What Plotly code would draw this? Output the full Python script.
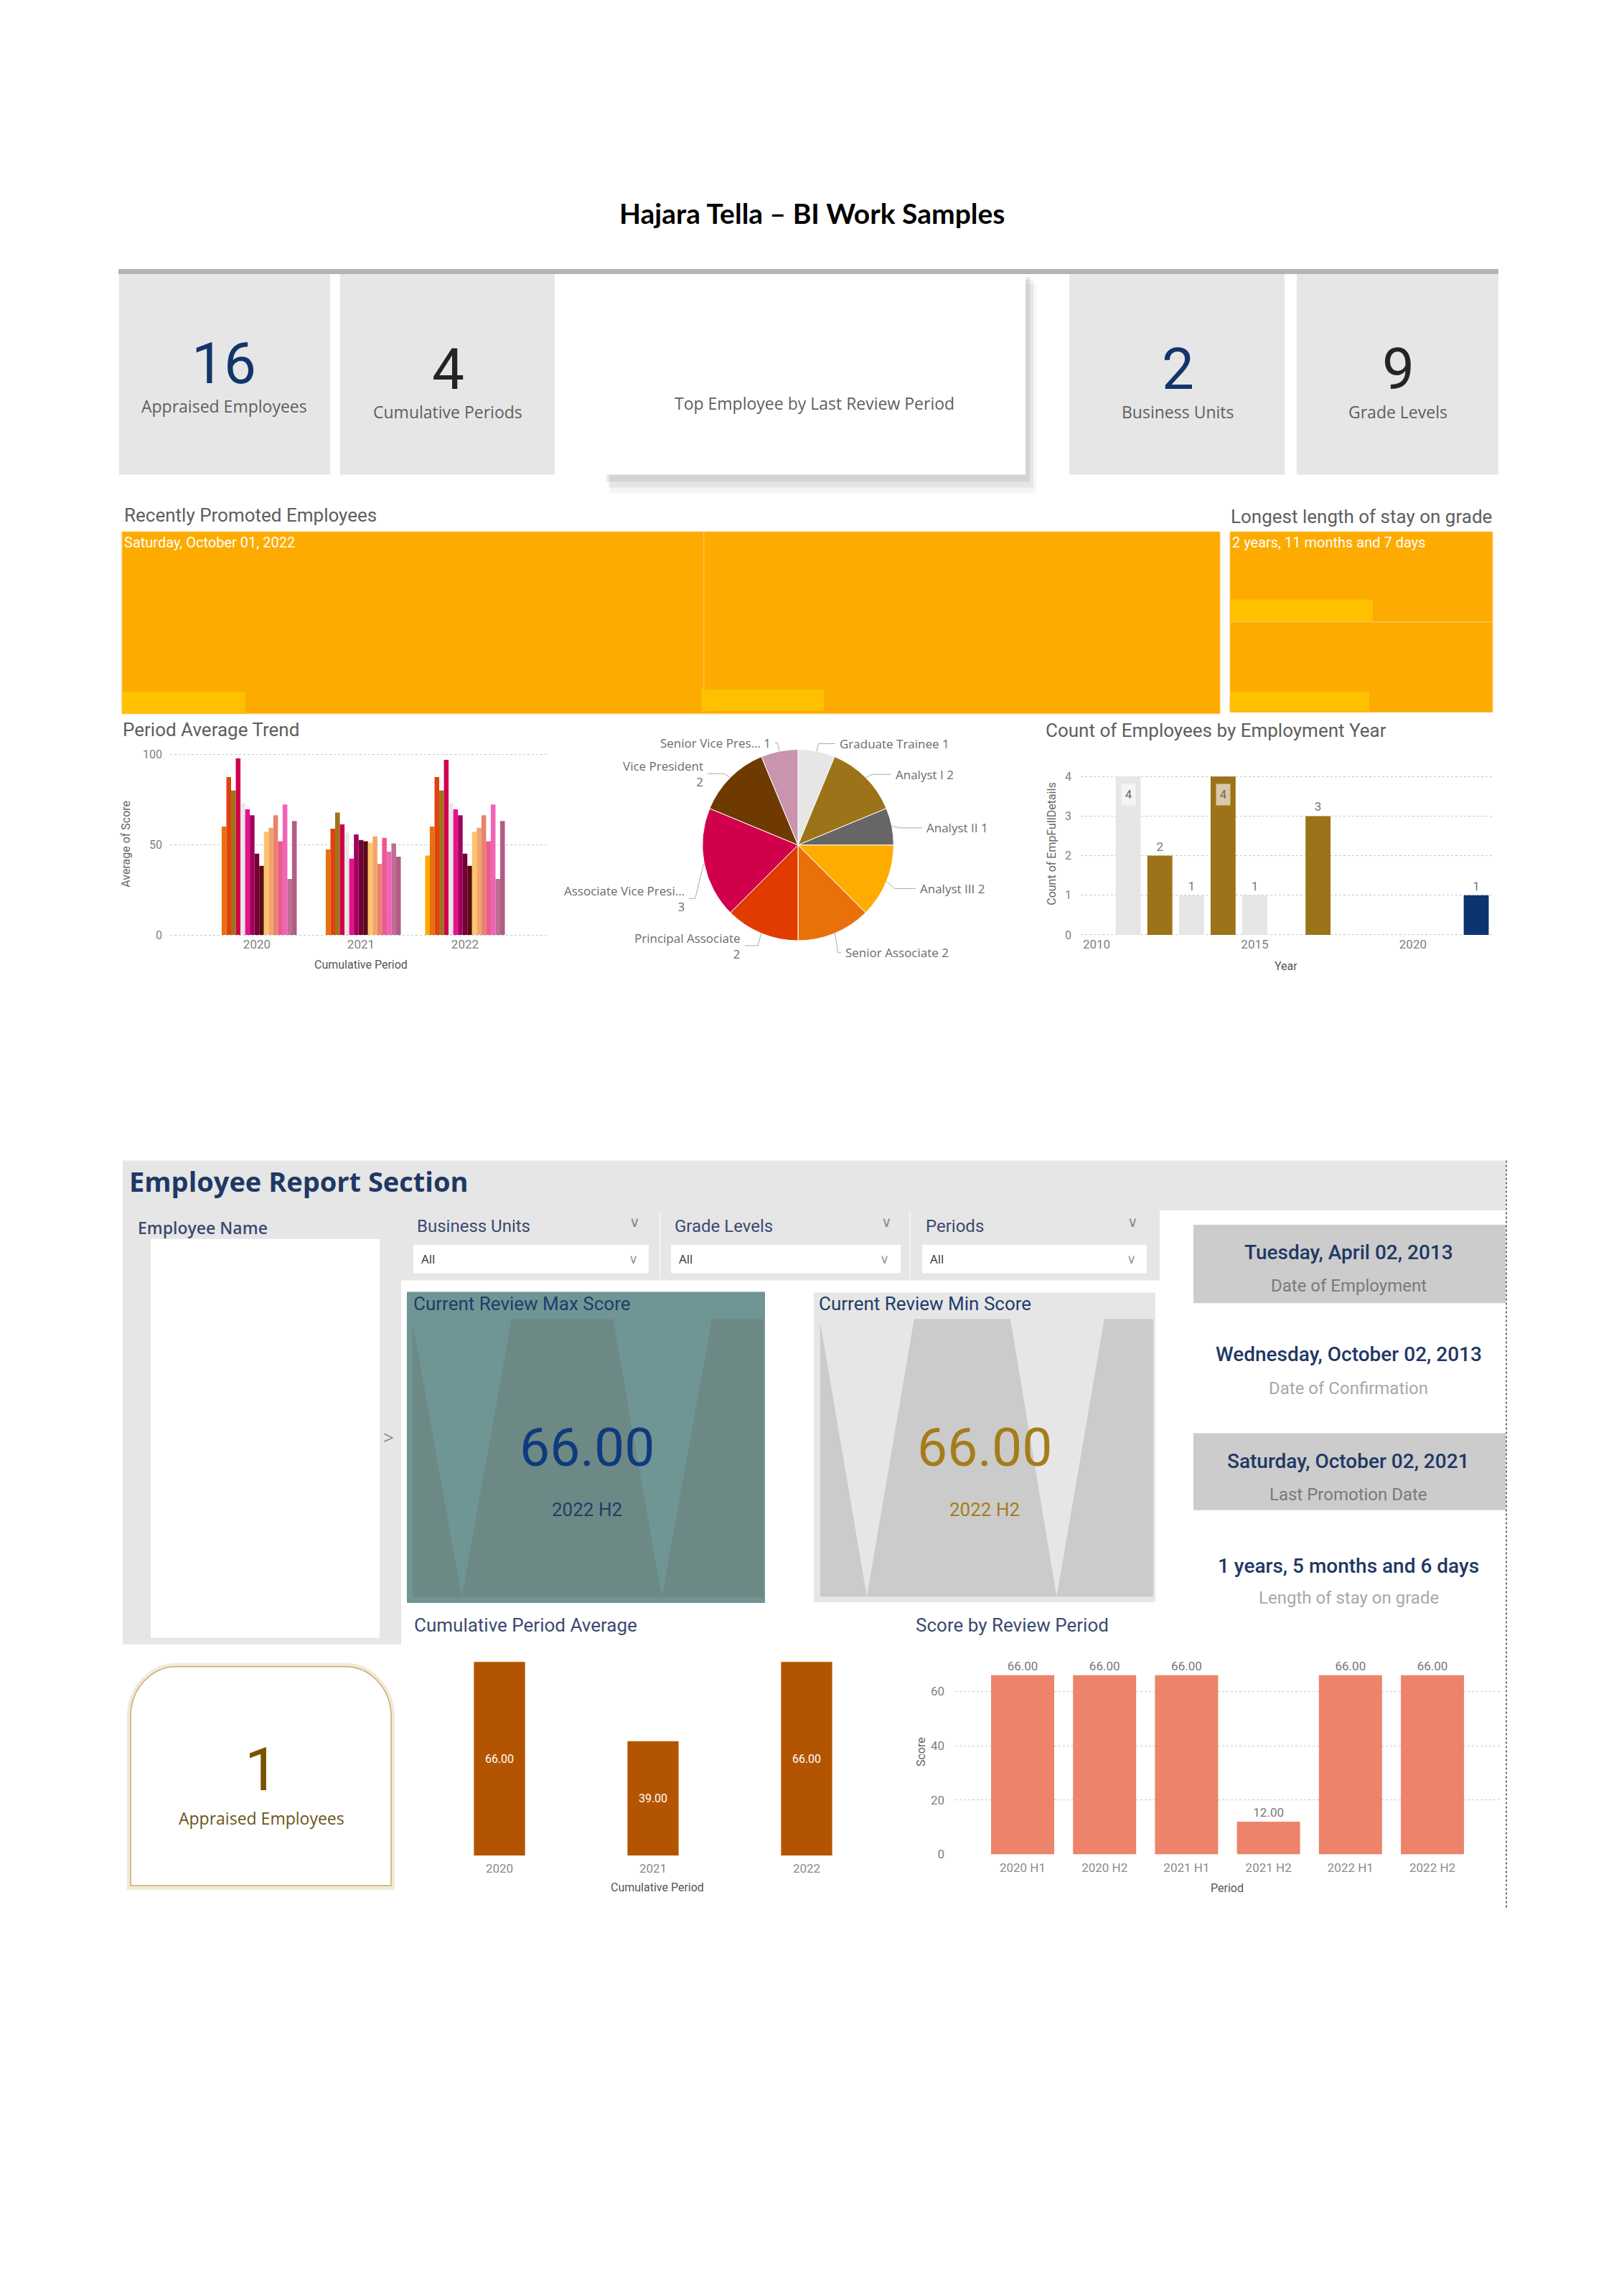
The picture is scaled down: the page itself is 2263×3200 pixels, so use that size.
import math
import plotly.graph_objects as go

W, H = 2263, 3200
FONT = 'Roboto'
FONT2 = 'Open Sans'

# ---------------- DATA ----------------
page_title = 'Hajara Tella – BI Work Samples'
kpi_values = ['16', '4', '2', '9']
kpi_labels = ['Appraised Employees', 'Cumulative Periods', 'Business Units', 'Grade Levels']
top_employee_title = 'Top Employee by Last Review Period'

promo_ids = ['promo_1', 'promo_2']
promo_dates = ['Saturday, October 01, 2022', '']
promo_weights = [53, 47]
stay_ids = ['stay_1', 'stay_2']
stay_lengths = ['2 years, 11 months and 7 days', '']
stay_weights = [1, 1]

trend_periods = ['2020', '2021', '2022']
trend_series = ['Group 01', 'Group 02', 'Group 03', 'Group 04', 'Group 05', 'Group 06',
                'Group 07', 'Group 08', 'Group 09', 'Group 10', 'Group 11', 'Group 12',
                'Group 13', 'Group 14', 'Group 15', 'Group 16', 'Group 17']
scores_2020 = [None, 60.0, 87.5, 80.0, 97.8, 73.0, 69.6, 66.3, 45.0, 38.3, 57.2, 59.3, 66.3, 51.9, 72.3, 31.0, 63.1]
scores_2021 = [None, 47.4, 58.8, 67.8, 61.2, 56.8, 42.3, 55.7, 52.6, 51.9, 51.1, 54.6, 39.4, 53.8, 46.1, 50.7, 43.3]
scores_2022 = [43.9, 60.0, 87.5, 80.0, 97.0, 73.0, 69.6, 66.3, 45.0, 38.3, 57.2, 59.3, 66.3, 51.9, 72.3, 31.0, 63.1]

grade_labels = ['Graduate Trainee', 'Analyst I', 'Analyst II', 'Analyst III', 'Senior Associate',
                'Principal Associate', 'Associate Vice President', 'Vice President', 'Senior Vice President']
grade_short = ['Graduate Trainee', 'Analyst I', 'Analyst II', 'Analyst III', 'Senior Associate',
               'Principal Associate', 'Associate Vice Presi...', 'Vice President', 'Senior Vice Pres...']
grade_counts = [1, 2, 1, 2, 2, 2, 3, 2, 1]

emp_years = [2011, 2012, 2013, 2014, 2015, 2017, 2022]
emp_counts = [4, 2, 1, 4, 1, 3, 1]

cum_periods = ['2020', '2021', '2022']
cum_avg = [66.0, 39.0, 66.0]

review_periods = ['2020 H1', '2020 H2', '2021 H1', '2021 H2', '2022 H1', '2022 H2']
review_scores = [66.0, 66.0, 66.0, 12.0, 66.0, 66.0]

filter_names = ['Business Units', 'Grade Levels', 'Periods']
filter_values = ['All', 'All', 'All']
max_score = 66.00
min_score = 66.00
score_period = '2022 H2'
selected_employees = 1
detail_values = ['Tuesday, April 02, 2013', 'Wednesday, October 02, 2013',
                 'Saturday, October 02, 2021', '1 years, 5 months and 6 days']
detail_labels = ['Date of Employment', 'Date of Confirmation', 'Last Promotion Date', 'Length of stay on grade']

# ---------------- STYLE ----------------
trend_colors = ['#FDAB00', '#E8700D', '#E0420C', '#9E7418', '#D1004B', '#E8E8E8', '#E6128A', '#A0005E',
                '#750038', '#5A0C12', '#FFC36B', '#F3A46B', '#E8836C', '#EA5A8C', '#F262B5', '#BE6E92', '#B25C86']
pie_colors = ['#E6E6E6', '#9C7318', '#666666', '#FFAB00', '#E8710A', '#E03C00', '#D1004C', '#6E3A00', '#C995AE']
emp_colors = ['#E6E6E6', '#9C7318', '#E6E6E6', '#9C7318', '#E6E6E6', '#9C7318', '#0C3470']
TICK = '#7F7F7F'
GRID = '#C8C8C8'


def X(x):
    return x / W


def Y(y):
    return 1 - y / H


def rect(x0, y0, x1, y1, fill, line_color=None, line_width=0, layer='below'):
    return dict(type='rect', xref='paper', yref='paper', x0=X(x0), x1=X(x1), y0=Y(y1), y1=Y(y0),
                fillcolor=fill, line=dict(width=line_width, color=line_color or fill), layer=layer)


def poly(points, fill, layer='below', line_color=None, line_width=0, closed=True):
    path = 'M ' + ' L '.join(f'{X(x):.6f},{Y(y):.6f}' for x, y in points) + (' Z' if closed else '')
    d = dict(type='path', xref='paper', yref='paper', path=path,
             line=dict(width=line_width, color=line_color or 'rgba(0,0,0,0)'), layer=layer)
    if fill:
        d['fillcolor'] = fill
    return d


def vline(x, y0, y1, color, width=1, dash='solid'):
    return dict(type='line', xref='paper', yref='paper', x0=X(x), x1=X(x), y0=Y(y0), y1=Y(y1),
                line=dict(color=color, width=width, dash=dash), layer='above')


def txt(x, y, s, size, color, xanchor='center', yanchor='middle', family=FONT, weight='normal',
        align='center', angle=0, bgcolor=None):
    a = dict(xref='paper', yref='paper', x=X(x), y=Y(y), text=s, showarrow=False, xanchor=xanchor,
             yanchor=yanchor, align=align, textangle=angle,
             font=dict(size=size, color=color, family=family, weight=weight))
    if bgcolor:
        a['bgcolor'] = bgcolor
    return a


fig = go.Figure()
shapes = []
ann = []

# ---------------- TITLE & KPI CARDS ----------------
ann.append(txt(1131, 291, page_title, 39, '#000000', family='Lato', weight='bold'))
shapes.append(rect(165, 369, 2088, 376, '#B4B4B4'))
card_boxes = [(166, 376, 460, 657), (474, 376, 773, 657), (1490, 376, 1790, 657), (1807, 376, 2088, 657)]
kpi_centers = [312, 624, 1641, 1948]
kpi_num_y = [502, 510, 510, 510]
kpi_lab_y = [561, 569, 569, 569]
kpi_num_colors = ['#12356B', '#252423', '#12356B', '#252423']
for i, b in enumerate(card_boxes):
    shapes.append(rect(*b, '#E6E6E6'))
    ann.append(txt(kpi_centers[i], kpi_num_y[i], kpi_values[i], 80, kpi_num_colors[i]))
    ann.append(txt(kpi_centers[i], kpi_lab_y[i], kpi_labels[i], 23, '#5F5F5F', family=FONT2))
# top employee card with shadow
shapes.append(rect(850, 390, 1444, 683, 'rgba(0,0,0,0.04)'))
shapes.append(rect(848, 384, 1440, 675, 'rgba(0,0,0,0.06)'))
shapes.append(rect(845, 380, 1435, 667, 'rgba(0,0,0,0.08)'))
shapes.append(rect(842, 376, 1429, 657, '#FFFFFF'))
ann.append(txt(1135, 557, top_employee_title, 23, '#5F5F5F', family=FONT2))

# ---------------- TREEMAPS ----------------
ann.append(txt(171, 714, 'Recently Promoted Employees', 26, '#605E5C', xanchor='left'))
ann.append(txt(1713, 716, 'Longest length of stay on grade', 26, '#605E5C', xanchor='left'))
tm_marker = dict(colors=['#FDAB00', '#FDAB00'], line=dict(color='#FFC966', width=1),
                 pad=dict(t=0, l=0, r=0, b=0))
fig.add_trace(go.Treemap(
    ids=promo_ids, labels=promo_ids, parents=['', ''], values=promo_weights, text=promo_dates,
    textinfo='text', sort=False, textposition='top left',
    textfont=dict(color='white', size=20, family=FONT),
    marker=tm_marker, tiling=dict(packing='dice', pad=0), pathbar=dict(visible=False), hoverinfo='text',
    domain=dict(x=[X(170), X(1700)], y=[Y(992), Y(737)])))
fig.add_trace(go.Treemap(
    ids=stay_ids, labels=stay_ids, parents=['', ''], values=stay_weights, text=stay_lengths,
    textinfo='text', sort=False, textposition='top left',
    textfont=dict(color='white', size=20, family=FONT),
    marker=tm_marker, tiling=dict(packing='slice', pad=0), pathbar=dict(visible=False), hoverinfo='text',
    domain=dict(x=[X(1714), X(2080)], y=[Y(990), Y(737)])))
for b in [(170, 961, 342, 992), (977, 958, 1148, 988), (1714, 832, 1913, 863), (1714, 961, 1908, 988)]:
    shapes.append(rect(*b, '#FFC000', layer='above'))

# ---------------- PERIOD AVERAGE TREND ----------------
ann.append(txt(169, 1014, 'Period Average Trend', 26, '#605E5C', xanchor='left'))
for i, name in enumerate(trend_series):
    fig.add_trace(go.Bar(x=trend_periods, y=[scores_2020[i], scores_2021[i], scores_2022[i]], name=name,
                         marker=dict(color=trend_colors[i], line=dict(width=0)), xaxis='x', yaxis='y',
                         showlegend=False))
ann.append(txt(176, 1175, 'Average of Score', 16, '#666666', angle=-90))
ann.append(txt(503, 1344, 'Cumulative Period', 16, '#555555'))

# ---------------- PIE ----------------
cx, cy, r = 1112, 1176, 134
fig.add_trace(go.Pie(labels=grade_labels, values=grade_counts, sort=False, direction='clockwise', rotation=0,
                     marker=dict(colors=pie_colors, line=dict(color='#FFFFFF', width=1)), textinfo='none',
                     hoverinfo='label+value', showlegend=False,
                     domain=dict(x=[X(cx - r), X(cx + r)], y=[Y(cy + r), Y(cy - r)])))
# label placement (x, y, side, two_lines)
pie_label_pos = [(1168, 1034, 'R', False), (1246, 1077, 'R', False), (1289, 1152, 'R', False),
                 (1280, 1237, 'R', False), (1176, 1327, 'R', False), (1034, 1317, 'L', True),
                 (956, 1251, 'L', True), (982, 1076, 'L', True), (1076, 1033, 'L', False)]
total = sum(grade_counts)
cum = 0
for i, v in enumerate(grade_counts):
    mid = math.radians((cum + v / 2) / total * 360)
    cum += v
    ex, ey = cx + r * math.sin(mid), cy - r * math.cos(mid)
    ox = cx + (r + 12) * math.sin(mid)
    lx, ly, side, two = pie_label_pos[i]
    endx = lx - 4 if side == 'R' else lx + 4
    shapes.append(poly([(ex, ey), (ox, ly), (endx, ly)], None, layer='above', line_color='#AAAAAA',
                       line_width=1, closed=False))
    label = f'{grade_short[i]}<br>{v}' if two else f'{grade_short[i]} {v}'
    ann.append(txt(lx, ly, label, 17, '#6B6B6B', xanchor='left' if side == 'R' else 'right',
                   align='left' if side == 'R' else 'right', family=FONT2))

# ---------------- EMPLOYMENT YEAR ----------------
ann.append(txt(1455, 1015, 'Count of Employees by Employment Year', 26, '#605E5C', xanchor='left'))
top_count = max(emp_counts)
fig.add_trace(go.Bar(x=emp_years, y=emp_counts, width=0.79, marker=dict(color=emp_colors, line=dict(width=0)),
                     text=[str(v) if v < top_count else '' for v in emp_counts], textposition='outside',
                     textfont=dict(size=17, color='#777777'), cliponaxis=False, xaxis='x2', yaxis='y2',
                     showlegend=False))
for yr, v, c in zip(emp_years, emp_counts, emp_colors):
    if v == top_count:
        ann.append(dict(xref='x2', yref='y2', x=yr, y=v - 0.45, text=str(v), showarrow=False,
                        bgcolor='#F4F4F4' if c == '#E6E6E6' else '#D9C9A6', borderpad=5,
                        font=dict(size=16, color='#666666', family=FONT)))
ann.append(txt(1466, 1175, 'Count of EmpFullDetails', 16, '#666666', angle=-90))
ann.append(txt(1792, 1346, 'Year', 16, '#555555'))

# ---------------- EMPLOYEE REPORT SECTION ----------------
shapes.append(rect(171, 1618, 2098, 1688, '#E6E6E6'))
shapes.append(rect(171, 1688, 1616, 1786, '#E6E6E6'))
shapes.append(rect(171, 1786, 559, 2296, '#E6E6E6'))
shapes.append(rect(210, 1728, 529, 2287, '#FFFFFF'))
ann.append(txt(178, 1647, 'Employee Report Section', 38, '#1F3864', xanchor='left', family=FONT2, weight='bold'))
ann.append(txt(190, 1712, 'Employee Name', 23, '#3C4A6E', xanchor='left', family=FONT2, weight=600))
ann.append(txt(541, 2006, '>', 26, '#8A8A8A', family=FONT2))
filter_boxes = [(576, 904), (935, 1255), (1285, 1598)]
for i, (fx0, fx1) in enumerate(filter_boxes):
    shapes.append(rect(fx0, 1736, fx1, 1776, '#FFFFFF'))
    ann.append(txt(fx0 + 3, 1710, filter_names[i], 24, '#3C4A6E', xanchor='left', family=FONT))
    ann.append(txt(fx1 - 20, 1704, '∨', 20, '#8A8A8A', family='DejaVu Sans'))
    ann.append(txt(fx0 + 9, 1756, filter_values[i], 17, '#333333', xanchor='left', family=FONT2))
    ann.append(txt(fx1 - 22, 1756, '∨', 18, '#9A9A9A', family='DejaVu Sans'))
shapes.append(vline(920, 1690, 1784, '#F4F4F4', 2))
shapes.append(vline(1268, 1690, 1784, '#F4F4F4', 2))


def pattern_card(x0, y0, x1, y1, ix0, iy0, ix1, iy1, light, dark):
    out = [rect(x0, y0, x1, y1, light)]
    w = ix1 - ix0
    fx = [ix0 + f * w for f in (0.14, 0.282, 0.571, 0.71, 0.853)]
    out.append(poly([(ix0, iy0 + 5), (fx[0], iy1), (ix0, iy1)], dark))
    out.append(poly([(fx[1], iy0), (fx[2], iy0), (fx[3], iy1), (fx[0], iy1)], dark))
    out.append(poly([(fx[4], iy0), (ix1, iy0), (ix1, iy1), (fx[3], iy1)], dark))
    return out


shapes += pattern_card(567, 1802, 1066, 2238, 575, 1840, 1064, 2230, '#6F9695', '#6C8985')
shapes += pattern_card(1134, 1803, 1610, 2237, 1143, 1840, 1607, 2229, '#E6E6E6', '#CBCBCB')
ann.append(txt(574, 1819, 'Current Review Max Score', 26, '#1F3D6B', xanchor='left'))
ann.append(txt(818, 2020, f'{max_score:.2f}', 75, '#0F3A7D'))
ann.append(txt(818, 2107, score_period, 26, '#1F3D6B'))
ann.append(txt(1139, 1819, 'Current Review Min Score', 26, '#1F3D6B', xanchor='left'))
ann.append(txt(1372, 2020, f'{min_score:.2f}', 75, '#A67C1A'))
ann.append(txt(1372, 2107, score_period, 26, '#A67C1A'))

# details on right
shapes.append(rect(1663, 1708, 2098, 1818, '#CCCCCC'))
shapes.append(rect(1663, 2000, 2098, 2108, '#CCCCCC'))
detail_y = [(1747, 1794), (1890, 1937), (2039, 2086), (2186, 2231)]
detail_sub_colors = ['#7A7A7A', '#A8A8A8', '#7A7A7A', '#A8A8A8']
for i, (vy, ly) in enumerate(detail_y):
    ann.append(txt(1879, vy, detail_values[i], 28, '#1F3864', weight=500))
    ann.append(txt(1879, ly, detail_labels[i], 24, detail_sub_colors[i]))
shapes.append(vline(2099, 1618, 2665, '#6E6E6E', 2, 'dot'))


# rounded appraised card
def rounded_top(x0, y0, x1, y1, rx, ry):
    k = 0.55
    p = (f'M {X(x0)},{Y(y1)} L {X(x0)},{Y(y0 + ry)} '
         f'C {X(x0)},{Y(y0 + ry * (1 - k))} {X(x0 + rx * (1 - k))},{Y(y0)} {X(x0 + rx)},{Y(y0)} '
         f'L {X(x1 - rx)},{Y(y0)} '
         f'C {X(x1 - rx * (1 - k))},{Y(y0)} {X(x1)},{Y(y0 + ry * (1 - k))} {X(x1)},{Y(y0 + ry)} '
         f'L {X(x1)},{Y(y1)} Z')
    return p


shapes.append(dict(type='path', xref='paper', yref='paper', path=rounded_top(180, 2325, 547, 2637, 66, 72),
                   fillcolor='rgba(0,0,0,0)', line=dict(color='rgba(200,170,100,0.25)', width=6), layer='below'))
shapes.append(dict(type='path', xref='paper', yref='paper', path=rounded_top(182, 2327, 545, 2634, 64, 70),
                   fillcolor='#FFFFFF', line=dict(color='#C9AB6B', width=1.5), layer='below'))
ann.append(txt(364, 2472, str(selected_employees), 84, '#7A5300'))
ann.append(txt(364, 2539, 'Appraised Employees', 23, '#6B5420', family=FONT2))

# cumulative period average
ann.append(txt(575, 2269, 'Cumulative Period Average', 26, '#3C4A6E', xanchor='left'))
fig.add_trace(go.Bar(x=cum_periods, y=cum_avg, width=0.333, marker=dict(color='#B35500', line=dict(width=0)),
                     texttemplate='%{y:.2f}', textposition='inside', insidetextanchor='middle',
                     constraintext='none', textangle=0, textfont=dict(color='white', size=16, family=FONT),
                     xaxis='x3', yaxis='y3', showlegend=False))
ann.append(txt(916, 2637, 'Cumulative Period', 16, '#555555'))

# score by review period
ann.append(txt(1274, 2269, 'Score by Review Period', 26, '#3C4A6E', xanchor='left'))
fig.add_trace(go.Bar(x=review_periods, y=review_scores, width=0.77, marker=dict(color='#EC836A', line=dict(width=0)),
                     texttemplate='%{y:.2f}', textposition='outside', constraintext='none', textangle=0,
                     textfont=dict(color='#777777', size=17, family=FONT), cliponaxis=False,
                     xaxis='x4', yaxis='y4', showlegend=False))
ann.append(txt(1283, 2447, 'Score', 16, '#666666', angle=-90))
ann.append(txt(1710, 2638, 'Period', 16, '#555555'))

# ---------------- LAYOUT ----------------
common_x = dict(showgrid=False, showline=False, zeroline=False, ticks='', fixedrange=True)
common_y = dict(showgrid=True, gridcolor=GRID, griddash='dot', gridwidth=1, zeroline=False, showline=False,
                ticks='', fixedrange=True)
fig.update_layout(
    width=W, height=H, margin=dict(l=0, r=0, t=0, b=0, pad=0),
    paper_bgcolor='#FFFFFF', plot_bgcolor='rgba(0,0,0,0)', showlegend=False,
    barmode='group', bargap=0.234, bargroupgap=0,
    font=dict(family=FONT, color='#555555'),
    xaxis=dict(domain=[X(237), X(764)], anchor='y', type='category', range=[-0.834, 2.8],
               tickfont=dict(size=17, color=TICK), **common_x),
    yaxis=dict(domain=[Y(1303), Y(1048)], anchor='x', range=[-0.4, 100.4], tickvals=[0, 50, 100],
               tickfont=dict(size=16, color=TICK), ticklabelstandoff=10, **common_y),
    xaxis2=dict(domain=[X(1506), X(2080)], anchor='y2', range=[2009.50, 2022.52], tickvals=[2010, 2015, 2020],
                tickfont=dict(size=17, color=TICK), **common_x),
    yaxis2=dict(domain=[Y(1303), Y(1070)], anchor='x2', range=[-0.02, 4.18], tickvals=[0, 1, 2, 3, 4],
                tickfont=dict(size=16, color=TICK), ticklabelstandoff=12, **common_y),
    xaxis3=dict(domain=[X(589), X(1231)], anchor='y3', type='category', range=[-0.5, 2.5],
                tickfont=dict(size=17, color='#8A8A8A'), ticklabelstandoff=6, **common_x),
    yaxis3=dict(domain=[Y(2592), Y(2304)], anchor='x3', range=[0, 70], visible=False, fixedrange=True),
    xaxis4=dict(domain=[X(1331), X(2092)], anchor='y4', type='category', range=[-0.823, 5.84],
                tickfont=dict(size=17, color='#8A8A8A'), ticklabelstandoff=6, **common_x),
    yaxis4=dict(domain=[Y(2591), Y(2310)], anchor='x4', range=[-0.25, 73.7], tickvals=[0, 20, 40, 60],
                tickfont=dict(size=17, color=TICK), ticklabelstandoff=14, **common_y),
    shapes=shapes, annotations=ann,
)

fig.write_html('out.html', config={'displayModeBar': False})
